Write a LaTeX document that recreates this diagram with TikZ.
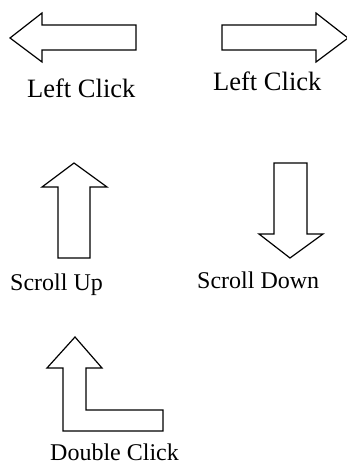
\documentclass[tikz,border=0pt]{standalone}
\usepackage{fontspec}
\setmainfont{Liberation Serif}
\begin{document}
\begin{tikzpicture}[x=1pt,y=-1pt,
  arrowshape/.style={draw=black,line width=1.2pt,line join=miter,fill=white},
  biglabel/.style={anchor=base west,inner sep=0pt,font=\fontsize{26.5}{30}\selectfont},
  label24/.style={anchor=base west,inner sep=0pt,font=\fontsize{24}{28}\selectfont}]
\useasboundingbox (0,0) rectangle (346,465);
% left arrow
\draw[arrowshape] (10,38) -- (42,13) -- (42,25) -- (136,25) -- (136,50) -- (42,50) -- (42,62) -- cycle;
% right arrow
\draw[arrowshape] (348,38) -- (316,13) -- (316,25) -- (222,25) -- (222,50) -- (316,50) -- (316,62) -- cycle;
\node[biglabel] (lc1) at (27,98) {Left Click};
\node[biglabel] (lc2) at (213,91) {Left Click};
% up arrow
\draw[arrowshape] (74,163) -- (107,187) -- (90,187) -- (90,258) -- (58,258) -- (58,187) -- (42,187) -- cycle;
% down arrow
\draw[arrowshape] (290,258) -- (323,234) -- (307,234) -- (307,163) -- (274,163) -- (274,234) -- (259,234) -- cycle;
\node[label24] (su) at (10,290) {Scroll Up};
\node[label24] (sd) at (197,288) {Scroll Down};
% double click arrow
\draw[arrowshape] (75,337) -- (102,368) -- (86,368) -- (86,410) -- (163,410) -- (163,431) -- (63,431) -- (63,368) -- (47,368) -- cycle;
\node[label24] (dc) at (50,460) {Double Click};
\end{tikzpicture}
\end{document}
